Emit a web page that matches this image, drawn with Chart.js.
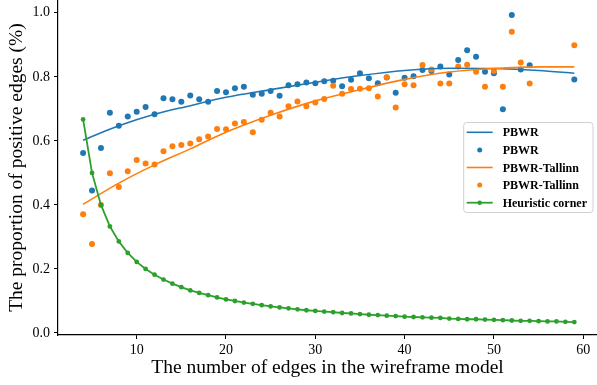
<!DOCTYPE html>
<html><head><meta charset="utf-8">
<script src="https://cdn.jsdelivr.net/npm/chart.js@4/dist/chart.umd.min.js"></script>
<style>html,body{margin:0;padding:0;background:#fff}#wrap{width:597px;height:385px;position:relative}</style>
</head><body><div id="wrap"><canvas id="c" width="597" height="385"></canvas></div>
<script>
// Scatter data (number of edges -> proportion)
const edges = [4,5,6,7,8,9,10,11,12,13,14,15,16,17,18,19,20,21,22,23,24,25,26,27,28,29,30,31,32,33,34,35,36,37,38,39,40,41,42,43,44,45,46,47,48,49,50,51,52,53,54,59];
const pbwr = [0.562,0.445,0.578,0.6875,0.647,0.676,0.691,0.706,0.683,0.733,0.730,0.722,0.742,0.730,0.722,0.756,0.752,0.764,0.769,0.744,0.747,0.756,0.741,0.774,0.777,0.782,0.780,0.786,0.788,0.771,0.791,0.811,0.796,0.780,0.798,0.750,0.797,0.802,0.821,0.818,0.8325,0.8075,0.853,0.883,0.8625,0.816,0.811,0.699,0.993,0.823,0.836,0.792];
const tallinn = [0.371,0.278,0.400,0.499,0.456,0.505,0.540,0.529,0.526,0.568,0.583,0.587,0.592,0.605,0.614,0.6375,0.636,0.654,0.659,0.627,0.666,0.6875,0.676,0.708,0.723,0.708,0.720,0.731,0.772,0.747,0.762,0.7625,0.764,0.739,0.799,0.704,0.777,0.774,0.837,0.823,0.779,0.779,0.8325,0.8375,0.816,0.769,0.818,0.769,0.941,0.845,0.779,0.899];
// Fitted curves
const fitX = [4,8,12,16,20,25,30,35,40,45,50,55,59];
const pbwrFit = [0.602,0.647,0.683,0.710,0.736,0.760,0.783,0.804,0.820,0.827,0.826,0.820,0.811];
const tallinnFit = [0.402,0.468,0.525,0.575,0.627,0.680,0.725,0.760,0.792,0.815,0.826,0.831,0.831];
// Heuristic corner
const cornerX = [4,5,6,7,8,9,10,11,12,13,14,15,16,17,18,19,20,21,22,23,24,25,26,27,28,29,30,31,32,33,34,35,36,37,38,39,40,41,42,43,44,45,46,47,48,49,50,51,52,53,54,55,56,57,58,59];
const corner = [0.667,0.5,0.4,0.333,0.286,0.25,0.222,0.2,0.182,0.167,0.154,0.143,0.133,0.125,0.118,0.111,0.105,0.1,0.095,0.091,0.087,0.083,0.08,0.077,0.074,0.071,0.069,0.067,0.065,0.0625,0.061,0.059,0.057,0.056,0.054,0.053,0.051,0.05,0.049,0.048,0.047,0.045,0.044,0.043,0.043,0.042,0.041,0.04,0.039,0.038,0.038,0.037,0.036,0.036,0.035,0.034];
// Ticks
const xTicks = [10,20,30,40,50,60];
const yTicks = [0.0,0.2,0.4,0.6,0.8,1.0];
const labels = ['PBWR','PBWR','PBWR-Tallinn','PBWR-Tallinn','Heuristic corner'];

const BLUE='#1f77b4', ORANGE='#ff7f0e', GREEN='#2ca02c';
const pts = (xs, ys) => xs.map((x,i)=>({x:x,y:ys[i]}));
const SERIF = '"Liberation Serif","DejaVu Serif",serif';

const legendPlugin = {
  id:'mplLegend',
  afterDraw(chart){
    const ctx = chart.ctx, ca = chart.chartArea;
    const ds = chart.data.datasets;
    ctx.save();
    ctx.font = 'bold 12px ' + SERIF;
    let maxW = 0;
    ds.forEach(d=>{maxW=Math.max(maxW, ctx.measureText(d.label).width);});
    const rowH = 17.6, handle = 26, padL = 3, gap = 10, padR = 6;
    const boxW = padL + handle + gap + maxW + padR;
    const boxH = rowH*ds.length + 2;
    const right = ca.right - 4;
    const left = right - boxW;
    const top = (ca.top+ca.bottom)/2 - boxH/2;
    ctx.beginPath();
    const r=3;
    ctx.moveTo(left+r,top);ctx.lineTo(right-r,top);ctx.quadraticCurveTo(right,top,right,top+r);
    ctx.lineTo(right,top+boxH-r);ctx.quadraticCurveTo(right,top+boxH,right-r,top+boxH);
    ctx.lineTo(left+r,top+boxH);ctx.quadraticCurveTo(left,top+boxH,left,top+boxH-r);
    ctx.lineTo(left,top+r);ctx.quadraticCurveTo(left,top,left+r,top);
    ctx.fillStyle='rgba(255,255,255,0.8)';ctx.fill();
    ctx.strokeStyle='#d0d0d0';ctx.lineWidth=1;ctx.stroke();
    ds.forEach((d,i)=>{
      const cy = top + 1 + rowH*(i+0.5);
      const hx0 = left + padL, hx1 = hx0 + handle;
      if (d.showLine){
        ctx.beginPath();ctx.moveTo(hx0,cy);ctx.lineTo(hx1,cy);
        ctx.strokeStyle=d.borderColor;ctx.lineWidth=d.borderWidth;ctx.stroke();
      }
      if (d.pointRadius>0){
        ctx.beginPath();ctx.arc((hx0+hx1)/2,cy,d.legendDot,0,Math.PI*2);
        ctx.fillStyle=d.backgroundColor;ctx.fill();
      }
      ctx.fillStyle='#000';ctx.textBaseline='middle';ctx.textAlign='left';
      ctx.fillText(d.label, hx1+gap, cy+1);
    });
    ctx.restore();
  }
};

new Chart(document.getElementById('c'), {
  type:'scatter',
  data:{datasets:[
    {label:labels[0],data:pts(fitX,pbwrFit),showLine:true,borderColor:BLUE,backgroundColor:BLUE,borderWidth:1.6,pointRadius:0,cubicInterpolationMode:'monotone',order:2},
    {label:labels[1],data:pts(edges,pbwr),showLine:false,borderColor:BLUE,backgroundColor:BLUE,pointRadius:3,pointBorderWidth:0,legendDot:2.5,order:4},
    {label:labels[2],data:pts(fitX,tallinnFit),showLine:true,borderColor:ORANGE,backgroundColor:ORANGE,borderWidth:1.6,pointRadius:0,cubicInterpolationMode:'monotone',order:1},
    {label:labels[3],data:pts(edges,tallinn),showLine:false,borderColor:ORANGE,backgroundColor:ORANGE,pointRadius:3,pointBorderWidth:0,legendDot:2.5,order:3},
    {label:labels[4],data:pts(cornerX,corner),showLine:true,borderColor:GREEN,backgroundColor:GREEN,borderWidth:1.8,pointRadius:2.4,pointBorderWidth:0,legendDot:2.2,order:0}
  ]},
  options:{
    responsive:false,animation:false,devicePixelRatio:1,
    layout:{padding:0,autoPadding:false},
    plugins:{legend:{display:false},tooltip:{enabled:false}},
    scales:{
      x:{type:'linear',min:1.19,max:61.54,
        afterFit:s=>{s.height=50;s.paddingLeft=0;s.paddingRight=0;},
        afterBuildTicks:s=>{s.ticks=xTicks.map(v=>({value:v}));},
        grid:{drawOnChartArea:false,drawTicks:true,tickLength:4,tickColor:'#000',tickWidth:1},
        border:{display:true,color:'#000',width:1.2},
        ticks:{color:'#000',font:{family:SERIF,size:14},padding:3,maxRotation:0,callback:v=>String(v)},
        title:{display:true,text:'The number of edges in the wireframe model',color:'#000',font:{family:SERIF,size:19.5},padding:{top:0,bottom:5}}
      },
      y:{type:'linear',min:-0.00625,max:1.04,
        afterFit:s=>{s.width=58;s.paddingTop=0;s.paddingBottom=0;},
        afterBuildTicks:s=>{s.ticks=yTicks.map(v=>({value:v}));},
        grid:{drawOnChartArea:false,drawTicks:true,tickLength:4,tickColor:'#000',tickWidth:1},
        border:{display:true,color:'#000',width:1.2},
        ticks:{color:'#000',font:{family:SERIF,size:14},padding:4,callback:v=>Number(v).toFixed(1)},
        title:{display:true,text:'The proportion of positive edges (%)',color:'#000',font:{family:SERIF,size:19.5},padding:{top:5,bottom:0}}
      }
    }
  },
  plugins:[legendPlugin]
});
</script>
</body></html>
